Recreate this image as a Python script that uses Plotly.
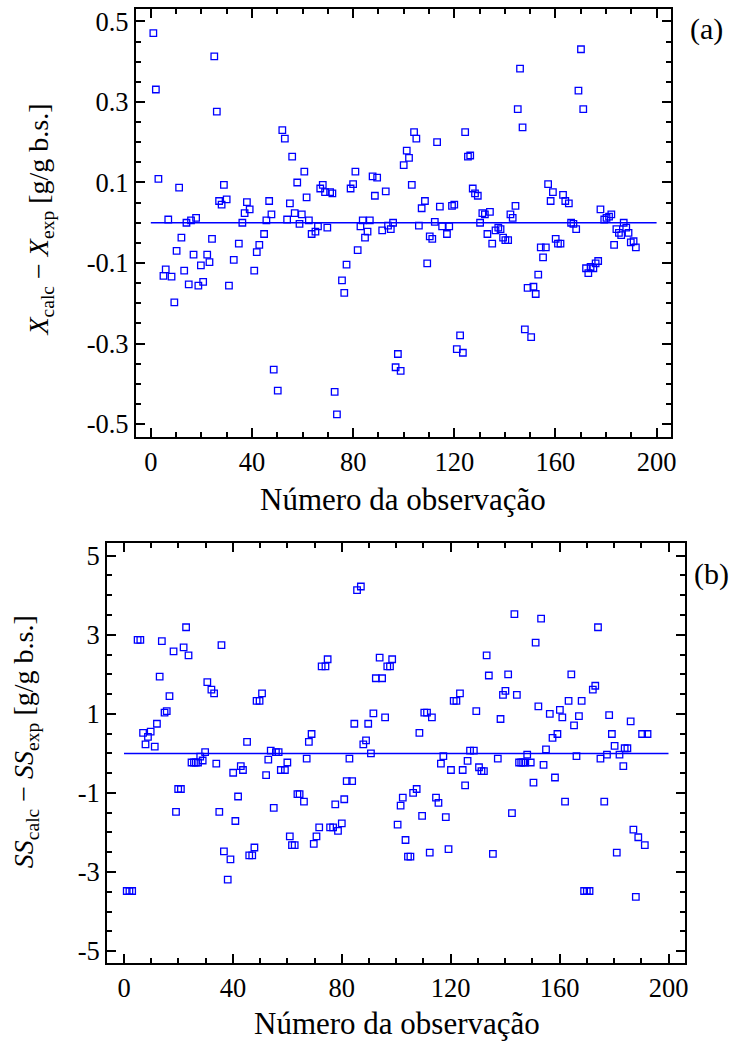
import plotly.graph_objects as go

# ---------------- data ----------------
obs_a = [1.0, 2.0, 3.0, 5.0, 5.9, 6.9, 8.2, 9.3, 10.2, 11.2, 12.1, 13.2, 14.1, 15.0, 15.9,
         16.9, 17.9, 18.8, 19.8, 20.7, 22.3, 23.2, 24.2, 25.1, 26.1, 27.0, 28.0, 28.9, 30.0,
         30.9, 32.8, 34.8, 36.2, 37.1, 38.0, 39.1, 40.9, 41.9, 42.9, 44.8, 45.7, 46.8, 47.7,
         48.6, 50.2, 52.0, 53.0, 53.9, 55.0, 55.9, 56.9, 57.9, 58.8, 59.7, 60.7, 61.6, 62.5,
         63.6, 65.1, 66.1, 67.0, 68.0, 68.9, 69.8, 70.9, 71.8, 72.7, 73.6, 75.6, 76.5, 77.4,
         79.0, 80.0, 80.9, 81.8, 82.9, 83.8, 84.7, 85.7, 86.6, 87.7, 88.6, 89.5, 91.5, 92.9,
         93.8, 94.9, 95.8, 96.8, 97.7, 98.8, 100.0, 101.2, 102.1, 103.2, 104.1, 105.0, 106.0,
         107.1, 108.4, 109.3, 110.3, 111.3, 112.3, 113.2, 114.3, 115.2, 117.1, 118.0, 119.1,
         120.0, 121.0, 122.3, 123.4, 124.3, 125.4, 126.3, 127.3, 128.2, 129.3, 130.2, 131.1,
         132.1, 133.1, 134.1, 135.0, 136.3, 137.4, 138.3, 139.3, 140.2, 141.3, 142.2, 143.1,
         144.2, 145.1, 146.0, 147.0, 147.9, 149.0, 150.4, 151.3, 152.2, 153.2, 154.2, 155.1,
         156.2, 157.1, 158.1, 159.0, 160.1, 161.0, 162.0, 163.0, 163.9, 165.3, 166.2, 167.1,
         168.2, 169.1, 170.1, 171.0, 172.1, 173.0, 173.9, 175.0, 175.9, 176.9, 177.8, 179.3,
         180.2, 181.2, 182.1, 183.2, 184.1, 185.1, 186.0, 187.0, 188.0, 188.9, 189.8, 190.9,
         191.8]
resid_a = [0.471, 0.331, 0.109, -0.132, -0.116, 0.008, -0.134, -0.198, -0.070, 0.087, -0.037,
           -0.119, 0.000, -0.153, 0.006, -0.079, 0.012, -0.156, -0.106, -0.147, -0.079, -0.098,
           -0.040, 0.413, 0.276, 0.054, 0.045, 0.094, 0.058, -0.156, -0.092, -0.052, 0.000,
           0.024, 0.051, 0.033, -0.119, -0.073, -0.055, -0.028, 0.006, 0.054, 0.021, -0.365,
           -0.417, 0.230, 0.209, 0.008, 0.048, 0.164, 0.024, 0.100, -0.003, 0.021, 0.127, 0.063,
           0.006, -0.028, -0.022, -0.009, 0.085, 0.094, 0.076, -0.012, 0.076, 0.073, -0.420,
           -0.476, -0.143, -0.174, -0.104, 0.085, 0.096, 0.127, -0.068, -0.009, 0.006, -0.037,
           -0.022, 0.006, 0.115, 0.067, 0.112, -0.019, 0.078, -0.007, -0.016, 0.000, -0.359,
           -0.326, -0.368, 0.143, 0.179, 0.161, 0.094, 0.225, 0.209, -0.007, 0.036, 0.054,
           -0.101, -0.034, -0.040, 0.002, 0.200, 0.040, -0.009, -0.028, -0.009, 0.042, 0.045,
           -0.314, -0.280, -0.323, 0.225, 0.164, 0.167, 0.085, 0.073, 0.067, 0.000, 0.024,
           0.021, -0.028, 0.027, -0.052, -0.019, -0.012, -0.016, -0.037, -0.043, -0.043, 0.021,
           0.012, 0.042, 0.282, 0.383, 0.237, -0.265, -0.162, -0.284, -0.159, -0.177, -0.129,
           -0.061, -0.086, -0.061, 0.096, 0.054, 0.076, -0.040, -0.052, -0.052, 0.069, 0.054,
           0.048, 0.000, -0.003, -0.016, 0.328, 0.431, 0.282, -0.113, -0.125, -0.110, -0.113,
           -0.101, -0.095, 0.033, 0.008, 0.012, 0.015, 0.021, -0.055, -0.016, -0.025, -0.031,
           0.000, -0.012, -0.025, -0.049, -0.046, -0.061]

obs_b = [1.0, 2.0, 3.0, 5.0, 6.0, 7.0, 7.9, 8.8, 9.8, 11.3, 12.1, 13.1, 13.9, 14.9, 15.7, 16.7,
         18.2, 19.1, 19.9, 20.9, 21.9, 22.8, 23.7, 24.8, 25.7, 26.4, 27.2, 28.0, 28.9, 29.8,
         30.6, 32.1, 33.1, 33.9, 35.0, 35.8, 36.7, 38.1, 39.1, 40.1, 40.9, 41.9, 42.9, 43.7,
         45.2, 46.0, 47.1, 47.9, 48.7, 49.8, 50.7, 52.2, 53.0, 53.9, 55.0, 55.8, 56.8, 57.6,
         59.1, 60.0, 60.9, 61.7, 62.7, 63.7, 64.5, 66.1, 67.1, 67.9, 68.9, 69.7, 70.7, 71.7,
         72.6, 74.0, 74.8, 75.7, 76.8, 77.6, 78.6, 80.0, 80.9, 81.8, 82.8, 83.8, 84.6, 85.6,
         87.0, 87.9, 88.9, 89.7, 90.7, 91.6, 92.5, 93.9, 94.8, 95.9, 96.7, 97.7, 98.5, 100.5,
         101.6, 102.4, 103.4, 104.3, 105.2, 106.2, 107.5, 108.5, 109.5, 110.3, 111.3, 112.3,
         113.1, 114.6, 115.5, 116.4, 117.3, 118.2, 119.2, 120.1, 121.1, 122.1, 123.4, 124.4,
         125.3, 126.2, 127.1, 128.5, 129.4, 130.4, 131.3, 132.2, 133.2, 134.0, 135.5, 137.3,
         138.3, 139.2, 140.1, 141.1, 142.5, 143.4, 144.3, 145.1, 145.9, 146.6, 147.4, 148.1,
         149.4, 150.4, 151.2, 152.2, 153.2, 154.1, 155.0, 156.4, 157.4, 158.3, 159.2, 160.1,
         161.0, 162.0, 163.3, 164.3, 165.3, 166.2, 167.1, 168.1, 169.0, 170.0, 171.0, 172.2,
         173.1, 174.1, 175.0, 176.4, 177.4, 178.2, 179.2, 180.2, 181.0, 182.0, 183.4, 183.9,
         184.9, 186.1, 187.1, 188.0, 188.9, 190.3, 191.3, 192.3]
resid_b = [-3.48, -3.48, -3.48, 2.87, 2.87, 0.52, 0.23, 0.42, 0.55, 0.17, 0.75, 1.94, 2.84,
           1.03, 1.07, 1.45, 2.58, -1.48, -0.90, -0.90, 2.68, 3.19, 2.48, -0.23, -0.23, -0.23,
           -0.23, -0.08, -0.18, 0.03, 1.80, 1.61, 1.52, -0.26, -1.48, 2.74, -2.48, -3.19, -2.68,
           -0.49, -1.71, -1.09, -0.32, -0.42, 0.29, -2.58, -2.58, -2.38, 1.33, 1.33, 1.52,
           -0.55, -0.16, 0.07, -1.38, 0.03, 0.03, -0.42, -0.42, -0.23, -2.10, -2.32, -2.32,
           -1.03, -1.03, -1.22, -0.13, 0.29, 0.49, -2.29, -2.10, -1.87, 2.20, 2.20, 2.38, -1.87,
           -1.87, -1.29, -1.96, -1.77, -1.16, -0.70, -0.13, -0.70, 0.75, 4.13, 4.22, 0.23, 0.33,
           0.75, 0.00, 1.01, 1.90, 2.42, 1.90, 0.91, 2.20, 2.20, 2.38, -1.80, -1.32, -1.12,
           -2.19, -2.61, -2.61, -1.00, -0.90, 0.52, -1.58, 1.03, 1.03, -2.51, 0.91, -1.12,
           -1.25, -0.26, -0.07, -1.61, -2.42, -0.42, 1.33, 1.33, 1.52, -0.42, -0.81, -0.19,
           0.07, 0.07, 1.07, -0.35, -0.45, -0.45, 2.48, 1.97, -2.54, -0.13, 0.87, 1.48, 1.58,
           2.00, -1.51, 3.52, 1.48, -0.23, -0.23, -0.23, -0.23, -0.03, -0.23, -0.74, 2.80,
           1.19, 3.41, -0.29, 0.10, 1.00, 0.39, -0.61, 0.49, 1.10, 0.91, -1.22, 1.33, 2.00,
           0.71, -0.07, 0.94, 1.33, -3.48, -3.48, -3.48, 1.61, 1.71, 3.19, -0.13, -1.22, -0.03,
           0.97, 0.49, 0.19, -2.51, -0.03, -0.32, 0.13, 0.13, 0.81, -1.93, -3.63, -2.12, 0.49,
           -2.32, 0.49]

zero_x = [0, 200]
zero_y = [0, 0]

x_ticks = [0, 40, 80, 120, 160, 200]
x_ticktext = ["0", "40", "80", "120", "160", "200"]
ya_ticks = [0.5, 0.3, 0.1, -0.1, -0.3, -0.5]
ya_ticktext = ["0.5", "0.3", "0.1", "-0.1", "-0.3", "-0.5"]
yb_ticks = [5, 3, 1, -1, -3, -5]
yb_ticktext = ["5", "3", "1", "-1", "-3", "-5"]

x_minor = list(range(0, 201, 10))
ya_minor = [round(-0.5 + 0.05 * i, 2) for i in range(21)]
yb_minor = [-5 + 0.5 * i for i in range(21)]

# ---------------- figure ----------------
W, H = 738, 1046
BLUE = "#0000FF"
FONT = "Liberation Serif"

fig = go.Figure()
mk = dict(symbol="square-open", size=6.5, color=BLUE, line=dict(color=BLUE, width=1.3))

fig.add_trace(go.Scatter(x=zero_x, y=zero_y, mode="lines", line=dict(color=BLUE, width=1.5),
                         xaxis="x", yaxis="y", hoverinfo="skip", showlegend=False))
fig.add_trace(go.Scatter(x=obs_a, y=resid_a, mode="markers", marker=mk,
                         xaxis="x", yaxis="y", showlegend=False))
fig.add_trace(go.Scatter(x=zero_x, y=zero_y, mode="lines", line=dict(color=BLUE, width=1.5),
                         xaxis="x2", yaxis="y2", hoverinfo="skip", showlegend=False))
fig.add_trace(go.Scatter(x=obs_b, y=resid_b, mode="markers", marker=mk,
                         xaxis="x2", yaxis="y2", showlegend=False))


def px_x(p):
    return p / W


def px_y(p):
    return 1 - p / H


common = dict(showline=True, linecolor="black", linewidth=2, mirror="allticks",
              ticks="inside", ticklen=9, tickwidth=1.8, tickcolor="black",
              showgrid=False, zeroline=False, tickmode="array",
              tickfont=dict(family=FONT, size=26.5, color="black"))
minor_style = dict(ticks="inside", ticklen=5, tickwidth=1.5, tickcolor="black", showgrid=False)

fig.update_layout(
    width=W, height=H, margin=dict(l=0, r=0, t=0, b=0),
    paper_bgcolor="white", plot_bgcolor="white", showlegend=False,
    xaxis=dict(domain=[px_x(137), px_x(676)], anchor="y", range=[-5.9, 205.5],
               tickvals=x_ticks, ticktext=x_ticktext,
               minor=dict(tickvals=x_minor, **minor_style), **common),
    yaxis=dict(domain=[px_y(437), px_y(7)], anchor="x", range=[-0.532, 0.531],
               tickvals=ya_ticks, ticktext=ya_ticktext,
               minor=dict(tickvals=ya_minor, **minor_style), **common),
    xaxis2=dict(domain=[px_x(108), px_x(691)], anchor="y2", range=[-6.2, 206.2],
                tickvals=x_ticks, ticktext=x_ticktext,
                minor=dict(tickvals=x_minor, **minor_style), **common),
    yaxis2=dict(domain=[px_y(966), px_y(544)], anchor="x2", range=[-5.31, 5.31],
                tickvals=yb_ticks, ticktext=yb_ticktext,
                minor=dict(tickvals=yb_minor, **minor_style), **common),
)

title_font = dict(family=FONT, size=31, color="black")
ylab_font = dict(family=FONT, size=28, color="black")
ann = [
    dict(text="Número da observação", x=px_x(406), y=px_y(500), font=title_font),
    dict(text="Número da observação", x=px_x(400), y=px_y(1026), font=title_font),
    dict(text="<i>X</i><sub>calc</sub> − <i>X</i><sub>exp</sub> [g/g b.s.]",
         x=px_x(41), y=px_y(219), font=ylab_font, textangle=-90),
    dict(text="<i>SS</i><sub>calc</sub> − <i>SS</i><sub>exp</sub> [g/g b.s.]",
         x=px_x(26), y=px_y(743), font=ylab_font, textangle=-90),
    dict(text="(a)", x=px_x(712), y=px_y(27), font=dict(family=FONT, size=30, color="black")),
    dict(text="(b)", x=px_x(717), y=px_y(575), font=dict(family=FONT, size=30, color="black")),
]
for a in ann:
    fig.add_annotation(xref="paper", yref="paper", showarrow=False,
                       xanchor="center", yanchor="middle", **a)

fig.write_html("out.html")
